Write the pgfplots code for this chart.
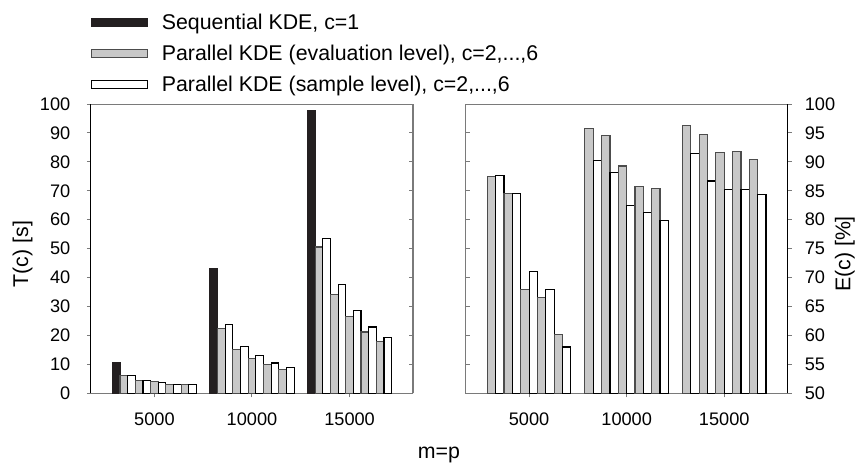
\documentclass[border=0pt]{standalone}
\usepackage{fontspec}
\setmainfont{Liberation Sans}
\usepackage{pgfplots}
\usepackage{pgfplotstable}
\pgfplotsset{compat=1.18}

\definecolor{seqblack}{HTML}{231F20}
\definecolor{evgray}{HTML}{C8C8C8}
\definecolor{boxgray}{HTML}{7A7A7A}

\newcommand\tickfont{\fontsize{10.9}{13}\selectfont}
\newcommand\labfont{\fontsize{12.8}{15}\selectfont}

% run times T(c) in s: c=1, then evaluation/sample level for c=2..6
\pgfplotstableread{
x s    g2   w2   g3   w3   g4   w4   g5   w5   g6   w6
1 10.8 6.2  6.2  4.3  4.3  4.1  3.8  3.1  3.1  3.1  3.1
2 43.1 22.5 23.8 15.1 16.2 12.0 13.1 10.0 10.5 8.3  9.0
3 97.6 50.6 53.5 34.2 37.7 26.6 28.7 21.2 22.9 18.0 19.4
}\timetable

% efficiency E(c) in %
\pgfplotstableread{
x g2   w2   g3   w3   g4   w4   g5   w5   g6   w6
1 87.4 87.6 84.5 84.5 68.0 71.0 66.6 68.0 60.2 58.0
2 95.8 90.3 94.5 88.2 89.3 82.4 85.7 81.3 85.4 79.8
3 96.3 91.5 94.8 86.7 91.6 85.2 91.8 85.2 90.4 84.4
}\efftable

\pgfplotsset{
  seq/.style={fill=seqblack, draw=seqblack, line width=0.7pt},
  evl/.style={fill=evgray, draw=black!70, line width=0.7pt},
  sml/.style={fill=white, draw=black, line width=0.7pt},
  panel/.style={
    scale only axis, anchor=south west,
    width=193.2pt, height=173.6pt,
    xmin=0.35, xmax=3.65,
    font=\tickfont,
    /pgf/number format/assume math mode=true,
    major tick length=2.4pt,
    tick style={boxgray, line width=0.6pt},
    axis line style={boxgray, line width=0.6pt},
    xticklabel style={yshift=-6pt},
  },
  mirror/.style={
    panel,
    axis x line=none,
    tick align=inside,
    yticklabels={},
  },
}

\begin{document}
\begin{tikzpicture}
\path[use as bounding box] (-54.6pt,-45.4pt) rectangle (459.6pt,236.0pt);

% ---- left panel: T(c)
\begin{axis}[mirror, at={(0pt,0pt)}, axis y line*=right, ymin=0, ymax=100, ytick={0,10,20,30,40,50,60,70,80,90,100}]
\end{axis}
\begin{axis}[panel, at={(0pt,0pt)},
  ybar, bar width=0.0785,
  ymin=0, ymax=100, ytick={0,10,20,30,40,50,60,70,80,90,100},
  ytick pos=left, xtick pos=left, tick align=outside,
  xtick={1,2,3}, xticklabels={5000,10000,15000},
  yticklabel style={xshift=-6.5pt},
  legend style={at={(0,1.3244)}, anchor=north west, draw=none, fill=none,
    inner sep=0pt, row sep=3.8pt, column sep=6pt, font=\labfont},
  legend cell align=left,
  legend image code/.code={\draw[#1] (0pt,-2.4pt) rectangle (33.6pt,2.4pt);},
  after end axis/.code={\draw[black, line width=0.6pt] (rel axis cs:0,0) -- (rel axis cs:0,1);},
]
\addplot[seq, bar shift=-0.3925] table[x=x, y=s]  {\timetable};
\addlegendentry{Sequential KDE, c=1}
\addplot[evl, bar shift=-0.3140] table[x=x, y=g2] {\timetable};
\addlegendentry{Parallel KDE (evaluation level), c=2,...,6}
\addplot[sml, bar shift=-0.2355] table[x=x, y=w2] {\timetable};
\addlegendentry{Parallel KDE (sample level), c=2,...,6}
\addplot[evl, bar shift=-0.1570, forget plot] table[x=x, y=g3] {\timetable};
\addplot[sml, bar shift=-0.0785, forget plot] table[x=x, y=w3] {\timetable};
\addplot[evl, bar shift=0, forget plot]       table[x=x, y=g4] {\timetable};
\addplot[sml, bar shift=0.0785, forget plot]  table[x=x, y=w4] {\timetable};
\addplot[evl, bar shift=0.1570, forget plot]  table[x=x, y=g5] {\timetable};
\addplot[sml, bar shift=0.2355, forget plot]  table[x=x, y=w5] {\timetable};
\addplot[evl, bar shift=0.3140, forget plot]  table[x=x, y=g6] {\timetable};
\addplot[sml, bar shift=0.3925, forget plot]  table[x=x, y=w6] {\timetable};
\end{axis}

% ---- right panel: E(c)
\begin{axis}[mirror, at={(224.8pt,0pt)}, axis y line*=left, ymin=50, ymax=100, ytick={50,55,60,65,70,75,80,85,90,95,100}]
\end{axis}
\begin{axis}[panel, at={(224.8pt,0pt)},
  ybar, bar width=0.0856,
  ymin=50, ymax=100, ytick={50,55,60,65,70,75,80,85,90,95,100},
  ytick pos=right, yticklabel pos=right, xtick pos=left, tick align=outside,
  xtick={1,2,3}, xticklabels={5000,10000,15000},
  yticklabel style={xshift=4.4pt},
  after end axis/.code={\draw[black, line width=0.6pt] (rel axis cs:1,0) -- (rel axis cs:1,1);},
]
\addplot[evl, bar shift=-0.3852] table[x=x, y=g2] {\efftable};
\addplot[sml, bar shift=-0.2996] table[x=x, y=w2] {\efftable};
\addplot[evl, bar shift=-0.2140] table[x=x, y=g3] {\efftable};
\addplot[sml, bar shift=-0.1284] table[x=x, y=w3] {\efftable};
\addplot[evl, bar shift=-0.0428] table[x=x, y=g4] {\efftable};
\addplot[sml, bar shift=0.0428]  table[x=x, y=w4] {\efftable};
\addplot[evl, bar shift=0.1284]  table[x=x, y=g5] {\efftable};
\addplot[sml, bar shift=0.2140]  table[x=x, y=w5] {\efftable};
\addplot[evl, bar shift=0.2996]  table[x=x, y=g6] {\efftable};
\addplot[sml, bar shift=0.3852]  table[x=x, y=w6] {\efftable};
\end{axis}

\node[font=\labfont, rotate=90] at (-41pt,83.6pt) {T(c) [s]};
\node[font=\labfont, rotate=90] at (452.3pt,83.6pt) {E(c) [\%]};
\node[font=\labfont] at (208.8pt,-37pt) {m=p};
\end{tikzpicture}
\end{document}
